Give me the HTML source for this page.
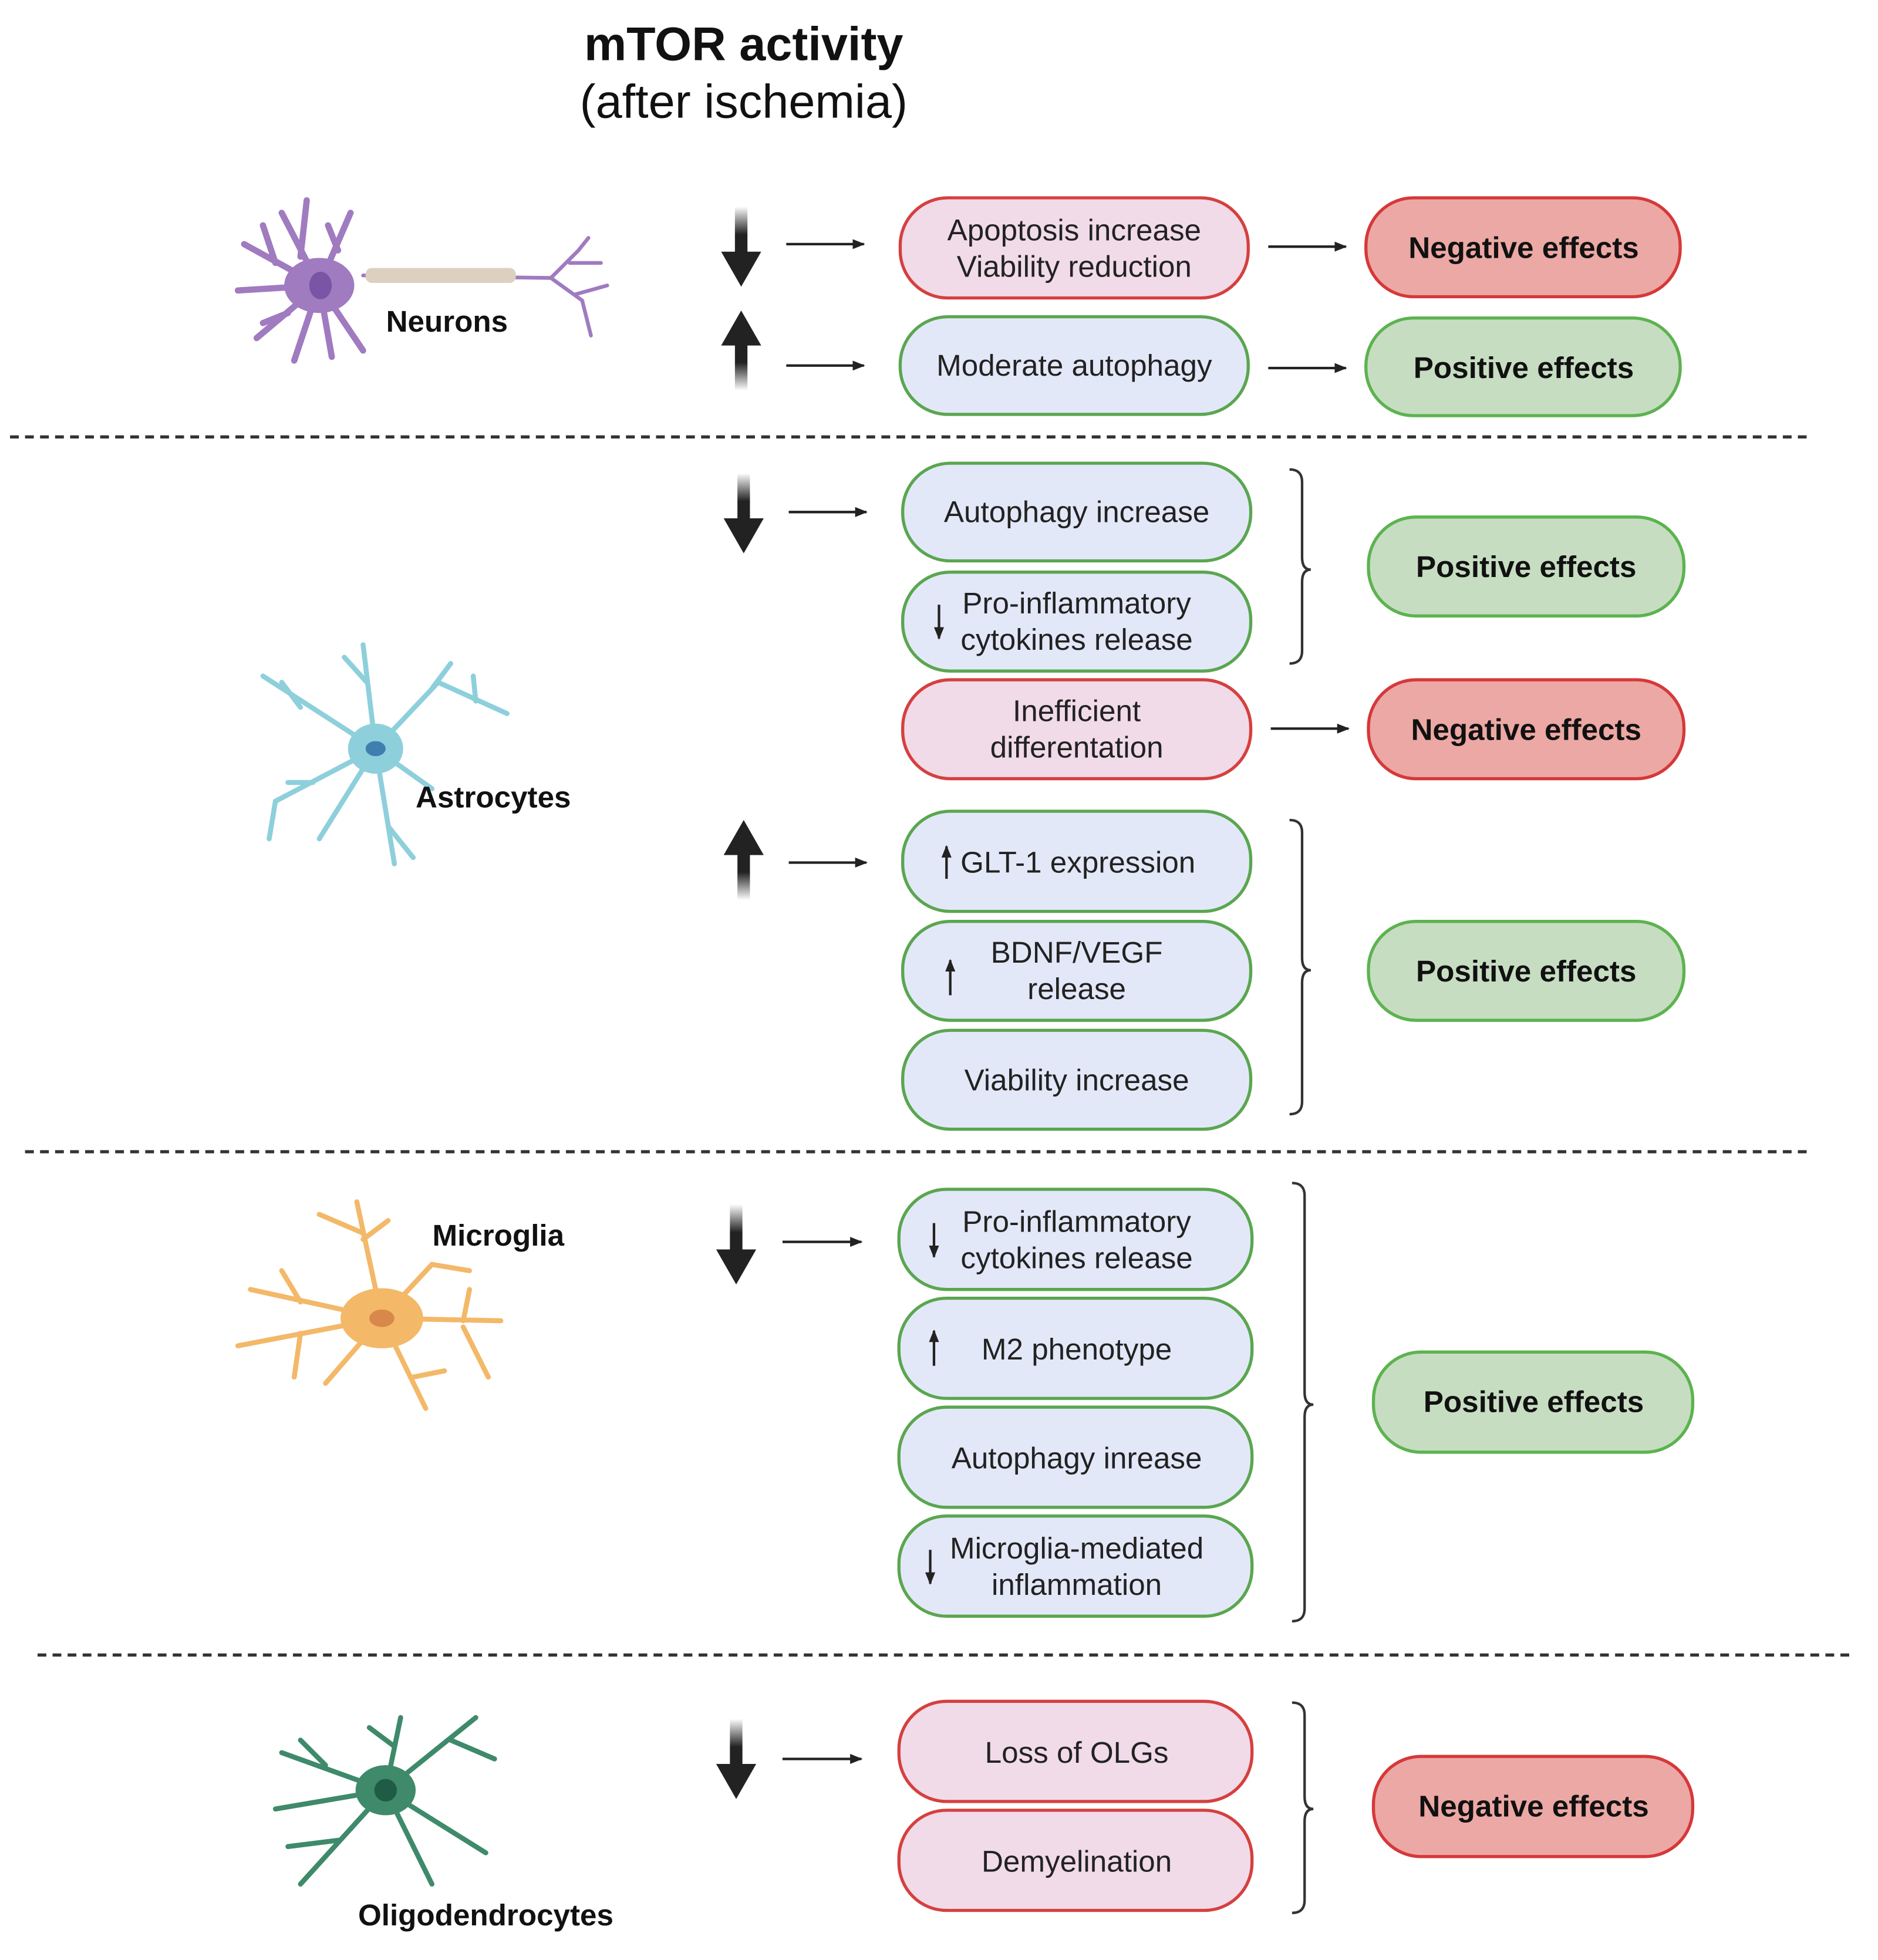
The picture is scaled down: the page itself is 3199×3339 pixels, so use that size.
<!DOCTYPE html>
<html><head><style>html,body{margin:0;padding:0;background:#fff}svg{display:block}</style></head>
<body>
<svg width="3199" height="3339" viewBox="0 0 1500 1565.6" xmlns="http://www.w3.org/2000/svg" font-family="'Liberation Sans', sans-serif">
<defs>
<linearGradient id="gd" x1="0" y1="0" x2="0" y2="1"><stop offset="0" stop-color="#222" stop-opacity="0"/><stop offset="0.35" stop-color="#222"/><stop offset="1" stop-color="#222"/></linearGradient>
<linearGradient id="gu" x1="0" y1="1" x2="0" y2="0"><stop offset="0" stop-color="#222" stop-opacity="0"/><stop offset="0.35" stop-color="#222"/><stop offset="1" stop-color="#222"/></linearGradient>
<symbol id="dn" viewBox="0 0 36 64" overflow="visible"><path d="M13 0 H23 V36 H34 L18 64 L2 36 H13 Z" fill="url(#gd)"/></symbol>
<symbol id="up" viewBox="0 0 36 64" overflow="visible"><path d="M13 64 H23 V28 H34 L18 0 L2 28 H13 Z" fill="url(#gu)"/></symbol>
<marker id="ah" markerWidth="10" markerHeight="10" refX="9" refY="5" orient="auto" markerUnits="userSpaceOnUse"><path d="M0 1 L10 5 L0 9 Z" fill="#222"/></marker>
</defs>
<style>
.pk{fill:#f1dbe8;stroke:#d5403f;stroke-width:2.5}
.bl{fill:#e3e8f8;stroke:#5aa650;stroke-width:2.5}
.ps{fill:#c7ddc2;stroke:#5cb34f;stroke-width:2.5}
.ng{fill:#eca8a4;stroke:#d6383a;stroke-width:2.5}
.t{font-size:24px;fill:#222;text-anchor:middle}
.b{font-size:24px;font-weight:bold;fill:#111;text-anchor:middle}
.sa{stroke:#222;stroke-width:2;marker-end:url(#ah)}
.dash{stroke:#333;stroke-width:2.5;stroke-dasharray:7 5}
.br{fill:none;stroke:#333;stroke-width:2}
</style>
<text x="594" y="48" font-size="38" font-weight="bold" text-anchor="middle" fill="#111">mTOR activity</text>
<text x="594" y="94" font-size="38" text-anchor="middle" fill="#111">(after ischemia)</text>

<!-- Neuron -->
<g stroke="#a07bc0" stroke-width="5" fill="none" stroke-linecap="round">
<path d="M255 228 L225 170 M240 205 L245 160 M255 228 L280 170 M270 200 L262 180 M255 228 L195 195 M220 210 L210 180 M255 228 L190 232 M255 228 L205 270 M230 250 L210 258 M255 228 L235 288 M255 228 L265 285 M255 228 L290 280"/>
<path d="M290 220 L440 222" stroke-width="3"/>
<path d="M440 222 L462 200 L470 190 M455 210 L480 210 M440 222 L465 240 L472 268 M460 235 L485 228" stroke-width="3"/>
</g>
<ellipse cx="255" cy="228" rx="28" ry="22" fill="#a07bc0"/>
<ellipse cx="256" cy="228" rx="9" ry="11" fill="#7a55a5"/>
<rect x="292" y="214" width="120" height="12" rx="5" fill="#ddd0c0"/>
<text x="357" y="265" class="b" font-size="23">Neurons</text>

<use href="#dn" x="574" y="165" width="36" height="64"/>
<use href="#up" x="574" y="248" width="36" height="64"/>
<line x1="628" y1="195" x2="690" y2="195" class="sa"/>
<line x1="628" y1="292" x2="690" y2="292" class="sa"/>
<rect x="719" y="158" width="278" height="80" rx="38" class="pk"/>
<text x="858" y="192" class="t">Apoptosis increase</text><text x="858" y="221" class="t">Viability reduction</text>
<rect x="719" y="253" width="278" height="78" rx="38" class="bl"/>
<text x="858" y="300" class="t">Moderate autophagy</text>
<line x1="1013" y1="197" x2="1075" y2="197" class="sa"/>
<line x1="1013" y1="294" x2="1075" y2="294" class="sa"/>
<rect x="1091" y="158" width="251" height="79" rx="38" class="ng"/><text x="1217" y="206" class="b">Negative effects</text>
<rect x="1091" y="254" width="251" height="78" rx="38" class="ps"/><text x="1217" y="302" class="b">Positive effects</text>
<line x1="8" y1="349" x2="1445" y2="349" class="dash"/>

<!-- Astrocyte -->
<g stroke="#8ecfdc" stroke-width="4" fill="none" stroke-linecap="round">
<path d="M300 598 L290 515 M293 545 L275 525 M300 598 L350 545 L405 570 M345 550 L360 530 M380 560 L378 540 M300 598 L210 540 M240 565 L225 545 M300 598 L220 640 L215 670 M250 625 L230 625 M300 598 L315 690 M310 660 L330 685 M300 598 L345 630 M300 598 L255 670"/>
</g>
<ellipse cx="300" cy="598" rx="22" ry="20" fill="#8ecfdc"/><ellipse cx="300" cy="598" rx="8" ry="6" fill="#3f7fb0"/>
<text x="394" y="645" class="b">Astrocytes</text>

<use href="#dn" x="576" y="378" width="36" height="64"/>
<line x1="630" y1="409" x2="692" y2="409" class="sa"/>
<rect x="721" y="370" width="278" height="78" rx="38" class="bl"/><text x="860" y="417" class="t">Autophagy increase</text>
<rect x="721" y="457" width="278" height="79" rx="38" class="bl"/><text x="860" y="490" class="t">Pro-inflammatory</text><text x="860" y="519" class="t">cytokines release</text>
<line x1="750" y1="483" x2="750" y2="510" class="sa"/>
<rect x="721" y="543" width="278" height="79" rx="38" class="pk"/><text x="860" y="576" class="t">Inefficient</text><text x="860" y="605" class="t">differentation</text>
<line x1="1015" y1="582" x2="1077" y2="582" class="sa"/>
<path d="M1030 375 Q1040 375 1040 385 V445 Q1040 455 1047 455 Q1040 455 1040 465 V520 Q1040 530 1030 530" class="br"/>
<rect x="1093" y="413" width="252" height="79" rx="38" class="ps"/><text x="1219" y="461" class="b">Positive effects</text>
<rect x="1093" y="543" width="252" height="79" rx="38" class="ng"/><text x="1219" y="591" class="b">Negative effects</text>
<use href="#up" x="576" y="655" width="36" height="64"/>
<line x1="630" y1="689" x2="692" y2="689" class="sa"/>
<rect x="721" y="648" width="278" height="80" rx="38" class="bl"/><text x="861" y="697" class="t">GLT-1 expression</text>
<line x1="756" y1="702" x2="756" y2="676" class="sa"/>
<rect x="721" y="736" width="278" height="79" rx="38" class="bl"/><text x="860" y="769" class="t">BDNF/VEGF</text><text x="860" y="798" class="t">release</text>
<line x1="759" y1="795" x2="759" y2="767" class="sa"/>
<rect x="721" y="823" width="278" height="79" rx="38" class="bl"/><text x="860" y="871" class="t">Viability increase</text>
<path d="M1030 655 Q1040 655 1040 665 V765 Q1040 775 1047 775 Q1040 775 1040 785 V880 Q1040 890 1030 890" class="br"/>
<rect x="1093" y="736" width="252" height="79" rx="38" class="ps"/><text x="1219" y="784" class="b">Positive effects</text>
<line x1="20" y1="920" x2="1445" y2="920" class="dash"/>

<!-- Microglia -->
<g stroke="#f3b868" stroke-width="4" fill="none" stroke-linecap="round">
<path d="M305 1053 L285 960 M290 985 L255 970 M290 990 L310 975 M305 1053 L200 1030 M240 1040 L225 1015 M305 1053 L190 1075 M240 1065 L235 1100 M305 1053 L260 1105 M305 1053 L340 1125 M330 1100 L355 1095 M305 1053 L400 1055 M370 1055 L375 1030 M370 1060 L390 1100 M305 1053 L345 1010 L375 1015"/>
</g>
<ellipse cx="305" cy="1053" rx="33" ry="24" fill="#f3b868"/><ellipse cx="305" cy="1053" rx="10" ry="7" fill="#d8884a"/>
<text x="398" y="995" class="b" font-size="27">Microglia</text>

<use href="#dn" x="570" y="962" width="36" height="64"/>
<line x1="625" y1="992" x2="688" y2="992" class="sa"/>
<rect x="718" y="950" width="282" height="80" rx="38" class="bl"/><text x="860" y="984" class="t">Pro-inflammatory</text><text x="860" y="1013" class="t">cytokines release</text>
<line x1="746" y1="977" x2="746" y2="1004" class="sa"/>
<rect x="718" y="1037" width="282" height="80" rx="38" class="bl"/><text x="860" y="1086" class="t">M2 phenotype</text>
<line x1="746" y1="1091" x2="746" y2="1063" class="sa"/>
<rect x="718" y="1124" width="282" height="80" rx="38" class="bl"/><text x="860" y="1173" class="t">Autophagy inrease</text>
<rect x="718" y="1211" width="282" height="80" rx="38" class="bl"/><text x="860" y="1245" class="t">Microglia-mediated</text><text x="860" y="1274" class="t">inflammation</text>
<line x1="743" y1="1238" x2="743" y2="1265" class="sa"/>
<path d="M1032 945 Q1042 945 1042 955 V1112 Q1042 1122 1049 1122 Q1042 1122 1042 1132 V1285 Q1042 1295 1032 1295" class="br"/>
<rect x="1097" y="1080" width="255" height="80" rx="38" class="ps"/><text x="1225" y="1128" class="b">Positive effects</text>
<line x1="30" y1="1322" x2="1480" y2="1322" class="dash"/>

<!-- Oligodendrocyte -->
<g stroke="#3e8a6a" stroke-width="4" fill="none" stroke-linecap="round">
<path d="M308 1430 L320 1372 M315 1395 L295 1380 M308 1430 L380 1372 M360 1390 L395 1405 M308 1430 L225 1400 M260 1410 L240 1390 M308 1430 L220 1445 M308 1430 L240 1505 M270 1470 L230 1475 M308 1430 L345 1505 M308 1430 L388 1480"/>
</g>
<ellipse cx="308" cy="1430" rx="24" ry="20" fill="#3e8a6a"/><circle cx="308" cy="1430" r="9" fill="#1f5c46"/>
<text x="388" y="1538" class="b" font-size="27">Oligodendrocytes</text>

<use href="#dn" x="570" y="1373" width="36" height="64"/>
<line x1="625" y1="1405" x2="688" y2="1405" class="sa"/>
<rect x="718" y="1359" width="282" height="80" rx="38" class="pk"/><text x="860" y="1408" class="t">Loss of OLGs</text>
<rect x="718" y="1446" width="282" height="80" rx="38" class="pk"/><text x="860" y="1495" class="t">Demyelination</text>
<path d="M1032 1360 Q1042 1360 1042 1370 V1435 Q1042 1445 1049 1445 Q1042 1445 1042 1455 V1518 Q1042 1528 1032 1528" class="br"/>
<rect x="1097" y="1403" width="255" height="80" rx="38" class="ng"/><text x="1225" y="1451" class="b">Negative effects</text>
</svg>
</body></html>
